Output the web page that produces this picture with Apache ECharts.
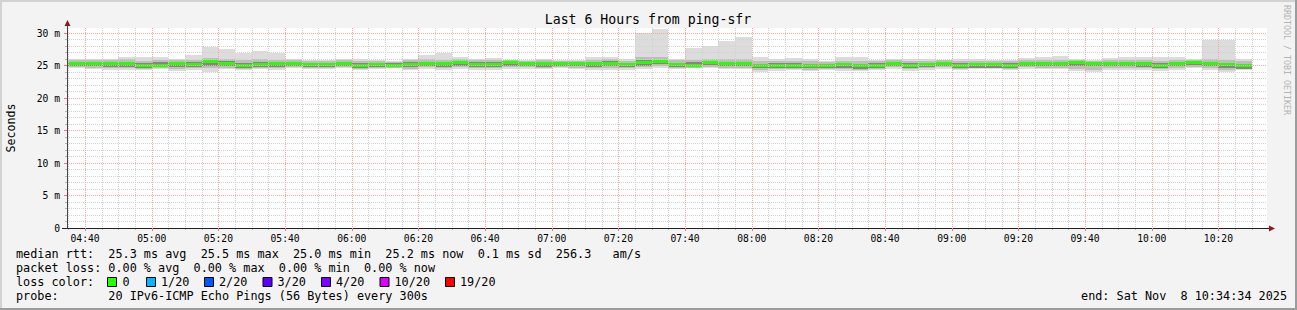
<!DOCTYPE html>
<html><head><meta charset="utf-8">
<script src="https://cdn.jsdelivr.net/npm/echarts@6/dist/echarts.min.js"></script>
<style>html,body{margin:0;padding:0;background:#f3f3f3;}#c{width:1297px;height:310px;}</style>
</head><body><div id="c"></div>
<script>
// ---- data ----
const axisStart = '04:34:34';
const axisEnd = '10:34:34';
const stepMinutes = 5;
const binStart = [
 '04:30','04:35','04:40','04:45','04:50','04:55',
 '05:00','05:05','05:10','05:15','05:20','05:25','05:30','05:35','05:40','05:45','05:50','05:55',
 '06:00','06:05','06:10','06:15','06:20','06:25','06:30','06:35','06:40','06:45','06:50','06:55',
 '07:00','07:05','07:10','07:15','07:20','07:25','07:30','07:35','07:40','07:45','07:50','07:55',
 '08:00','08:05','08:10','08:15','08:20','08:25','08:30','08:35','08:40','08:45','08:50','08:55',
 '09:00','09:05','09:10','09:15','09:20','09:25','09:30','09:35','09:40','09:45','09:50','09:55',
 '10:00','10:05','10:10','10:15','10:20','10:25'
];
// slowest ping per step
const smokeMax = [
 26.1, 26.1,26.1,26.0,26.4,26.4,
 26.4, 26.0,26.7,27.8,27.5,26.9,27.2,26.9,26.0,25.9,25.9,26.0,
 25.95,25.9,25.7,26.0,26.6,26.95,26.4,26.1,26.2,25.9,25.8,26.0,
 25.9, 25.8,26.3,26.3,26.0,30.0,30.6,26.1,27.7,28.0,28.8,29.4,
 26.3, 26.0,26.2,26.0,25.7,26.3,26.3,25.9,26.1,26.1,26.0,25.9,
 26.0, 26.0,25.9,25.9,26.2,26.3,26.5,26.0,25.8,26.2,26.3,26.3,
 26.3, 26.4,26.1,28.9,28.9,26.0
];
// fastest ping per step
const smokeMin = [
 24.6, 24.6,24.5,24.4,24.4,24.4,
 24.5, 24.2,24.4,24.0,24.5,24.4,24.5,24.4,24.6,24.5,24.5,24.6,
 24.4, 24.5,24.6,24.3,24.5,24.4,24.5,24.4,24.4,24.5,24.5,24.5,
 24.7, 24.5,24.3,24.3,24.4,24.5,24.6,24.5,24.6,24.6,24.5,24.5,
 24.1, 24.2,24.4,24.2,24.3,24.2,24.2,24.4,24.5,24.2,24.4,24.5,
 24.4, 24.5,24.5,24.4,24.5,24.5,24.5,24.2,24.1,24.4,24.4,24.4,
 24.2, 24.4,24.6,24.4,24.0,24.3
];
// second smoke layer (about 90th / 10th percentile)
const smokeHigh2 = [
 25.85, 25.85,25.9,25.85,25.95,25.75,
 25.8, 25.8,25.9,26.2,26.0,25.8,26.0,25.85,25.9,25.7,25.7,25.85,
 25.65,25.75,25.6,25.8,25.95,25.9,26.0,25.8,25.85,25.8,25.75,25.8,
 25.75,25.75,25.9,25.95,25.75,26.3,26.4,25.8,25.9,26.0,25.95,26.0,
 25.65,25.7,25.7,25.65,25.55,25.75,25.7,25.65,25.85,25.7,25.7,25.8,
 25.7, 25.7,25.65,25.65,25.9,25.85,25.9,25.85,25.7,25.85,25.9,25.9,
 25.7, 25.9,25.9,25.95,25.8,25.65
];
const smokeLow2 = [
 24.75, 24.75,24.7,24.65,24.65,24.45,
 24.6, 24.55,24.65,24.7,24.7,24.55,24.65,24.6,24.8,24.65,24.6,24.8,
 24.5, 24.65,24.65,24.55,24.75,24.6,24.75,24.6,24.6,24.75,24.75,24.7,
 24.85,24.7,24.6,24.6,24.6,24.75,24.9,24.6,24.7,24.8,24.7,24.7,
 24.35,24.45,24.55,24.4,24.45,24.45,24.4,24.55,24.75,24.45,24.6,24.75,
 24.55,24.6,24.6,24.55,24.75,24.7,24.7,24.5,24.4,24.65,24.65,24.65,
 24.45,24.65,24.8,24.65,24.4,24.45
];
// inner smoke layer (about quartiles)
const smokeUpper = [
 25.55, 25.55,25.6,25.55,25.6,25.4,
 25.5, 25.5,25.5,25.8,25.65,25.4,25.6,25.5,25.6,25.4,25.4,25.6,
 25.35,25.45,25.35,25.5,25.6,25.5,25.7,25.5,25.5,25.6,25.55,25.5,
 25.55,25.5,25.6,25.65,25.45,25.8,25.9,25.45,25.5,25.7,25.55,25.55,
 25.3, 25.35,25.35,25.3,25.3,25.4,25.3,25.35,25.6,25.35,25.4,25.6,
 25.4, 25.4,25.35,25.35,25.6,25.55,25.55,25.65,25.55,25.55,25.6,25.6,
 25.35,25.6,25.7,25.55,25.4,25.3
];
const smokeLower = [
 24.9, 24.9,24.9,24.85,24.85,24.6,
 24.75,24.8,24.85,25.0,24.9,24.7,24.8,24.8,25.0,24.8,24.75,25.0,
 24.65,24.8,24.75,24.8,25.0,24.8,25.0,24.8,24.85,25.0,25.0,24.85,
 25.0, 24.9,24.85,24.9,24.8,25.0,25.2,24.75,24.8,25.05,24.9,24.9,
 24.6, 24.7,24.65,24.65,24.6,24.7,24.55,24.7,24.95,24.65,24.75,24.95,
 24.7, 24.7,24.65,24.7,24.95,24.9,24.9,25.0,24.9,24.9,24.9,24.85,
 24.7, 24.9,25.05,24.9,24.7,24.55
];
const medianRtt = [
 25.25, 25.25,25.25,25.2,25.2,25.0,
 25.0, 25.2,25.15,25.5,25.3,25.0,25.15,25.2,25.3,25.05,25.1,25.3,
 25.0, 25.05,25.0,25.15,25.3,25.2,25.4,25.15,25.15,25.35,25.3,25.2,
 25.3, 25.2,25.25,25.3,25.1,25.4,25.5,25.1,25.0,25.4,25.2,25.2,
 25.0, 25.0,25.0,25.0,25.0,25.05,25.0,25.0,25.3,25.0,25.1,25.3,
 25.0, 25.1,25.05,25.0,25.3,25.2,25.2,25.4,25.3,25.25,25.3,25.3,
 25.0, 25.25,25.4,25.2,25.05,25.0
];
const xTickLabels = ['04:40','05:00','05:20','05:40','06:00','06:20','06:40','07:00','07:20','07:40',
 '08:00','08:20','08:40','09:00','09:20','09:40','10:00','10:20'];
const yTickValues = [0,5,10,15,20,25,30];
const yMax = 30.8;
const titleText = 'Last 6 Hours from ping-sfr';
const yName = 'Seconds';
const watermark = 'RRDTOOL / TOBI OETIKER';
const legendLines = [
 'median rtt:  25.3 ms avg  25.5 ms max  25.0 ms min  25.2 ms now  0.1 ms sd  256.3   am/s',
 'packet loss: 0.00 % avg  0.00 % max  0.00 % min  0.00 % now',
 'loss color:',
 'probe:       20 IPv6-ICMP Echo Pings (56 Bytes) every 300s'
];
const endText = 'end: Sat Nov  8 10:34:34 2025';
const lossLabels = ['0','1/20','2/20','3/20','4/20','10/20','19/20'];
const lossColors = ['#26ff00','#00b8ff','#0059ff','#5e00ff','#7e00ff','#dd00ff','#ff0000'];

// ---- helpers ----
function toMin(s){const p=s.split(':').map(Number);return p[0]*60+p[1]+(p[2]||0)/60;}
function fmtMin(v){const m=Math.round(v);const h=Math.floor(m/60),mm=m%60;return String(h).padStart(2,'0')+':'+String(mm).padStart(2,'0');}
const X_MIN=toMin(axisStart), X_MAX=toMin(axisEnd);
const xMajor = xTickLabels.map(toMin);
const xMinor=[];
for(let t=Math.ceil(X_MIN/stepMinutes)*stepMinutes;t<=X_MAX;t+=stepMinutes){ if(xMajor.indexOf(t)<0) xMinor.push(t); }
const yMinor=[];
for(let v=1;v<=30;v++){ if(yTickValues.indexOf(v)<0) yMinor.push(v); }
const nb = s => s.replace(/ /g,'\u00a0');
const MONO='"DejaVu Sans Mono", monospace';

const band = (lo,hi) => binStart.map((s,i)=>[toMin(s),toMin(s)+stepMinutes,lo[i],hi[i]]);
const medData = binStart.map((s,i)=>[toMin(s),toMin(s)+stepMinutes,medianRtt[i]]);

function clipTo(params, shape){
  const cs=params.coordSys;
  return echarts.graphic.clipRectByRect(shape,{x:cs.x,y:cs.y,width:cs.width,height:cs.height});
}
function bandRender(color){
  return function(params, api){
    const a=api.coord([api.value(0),api.value(3)]);
    const b=api.coord([api.value(1),api.value(2)]);
    const x0=Math.round(a[0]), x1=Math.round(b[0]), y0=Math.round(a[1]), y1=Math.round(b[1]);
    const shape=clipTo(params,{x:x0,y:y0,width:x1-x0,height:y1-y0});
    return shape?{type:'rect',shape:shape,style:{fill:color}}:null;
  };
}
function medRender(params, api){
  const a=api.coord([api.value(0),api.value(2)]);
  const b=api.coord([api.value(1),api.value(2)]);
  const x0=Math.round(a[0]), x1=Math.round(b[0]), yc=Math.round(a[1]);
  const shape=clipTo(params,{x:x0,y:yc-2,width:x1-x0,height:3});
  return shape?{type:'rect',shape:shape,style:{fill:'#26ff00'}}:null;
}

const chart = echarts.init(document.getElementById('c'), null, {renderer:'svg', width:1297, height:310});

const graphics = [];
graphics.push({type:'rect',shape:{x:0,y:0,width:1297,height:2},style:{fill:'#d2d2d2'},silent:true});
graphics.push({type:'rect',shape:{x:0,y:0,width:2,height:310},style:{fill:'#d2d2d2'},silent:true});
graphics.push({type:'rect',shape:{x:0,y:308,width:1297,height:2},style:{fill:'#9c9c9c'},silent:true});
graphics.push({type:'rect',shape:{x:1295,y:0,width:2,height:310},style:{fill:'#9c9c9c'},silent:true});
graphics.push({type:'line',shape:{x1:67.5,y1:28,x2:67.5,y2:24},style:{stroke:'#444',lineWidth:1},silent:true,z:10});
graphics.push({type:'line',shape:{x1:62,y1:228.5,x2:67,y2:228.5},style:{stroke:'#222',lineWidth:1},silent:true,z:10});
graphics.push({type:'line',shape:{x1:1267,y1:228.5,x2:1270,y2:228.5},style:{stroke:'#222',lineWidth:1},silent:true,z:10});
graphics.push({type:'polygon',shape:{points:[[64.5,26],[70.5,26],[67.5,20]]},style:{fill:'#8e1b1b'},silent:true,z:10});
graphics.push({type:'polygon',shape:{points:[[1269,225.5],[1269,231.5],[1275,228.5]]},style:{fill:'#8e1b1b'},silent:true,z:10});
graphics.push({type:'text',x:648,y:19.5,silent:true,style:{text:nb(titleText),font:'13.2px '+MONO,fill:'#000',align:'center',verticalAlign:'middle',textAlign:'center',textVerticalAlign:'middle'}});
graphics.push({type:'text',x:11,y:128,rotation:Math.PI/2,silent:true,style:{text:yName,font:'11.6px '+MONO,fill:'#000',align:'center',verticalAlign:'middle',textAlign:'center',textVerticalAlign:'middle'}});
graphics.push({type:'text',x:1287,y:60,rotation:-Math.PI/2,silent:true,style:{text:nb(watermark),font:'8.3px '+MONO,fill:'#b4b4b4',align:'center',verticalAlign:'middle',textAlign:'center',textVerticalAlign:'middle'}});
const legendY=[254,268,282,296];
legendLines.forEach((t,i)=>{
  graphics.push({type:'text',x:16,y:legendY[i],silent:true,style:{text:nb(t),font:'11.8px '+MONO,fill:'#000',align:'left',verticalAlign:'middle',textAlign:'left',textVerticalAlign:'middle'}});
});
graphics.push({type:'text',x:1287,y:296,silent:true,style:{text:nb(endText),font:'11.8px '+MONO,fill:'#000',align:'right',verticalAlign:'middle',textAlign:'right',textVerticalAlign:'middle'}});
const boxX=[107.5,146.5,204.5,263,321.5,380,445.5];
const labX=[122.5,161,219,277.5,336,394.5,460];
lossLabels.forEach((l,i)=>{
  graphics.push({type:'rect',shape:{x:boxX[i],y:277.5,width:9,height:9},style:{fill:lossColors[i],stroke:'#000',lineWidth:1},silent:true});
  graphics.push({type:'text',x:labX[i],y:282,silent:true,style:{text:l,font:'11.8px '+MONO,fill:'#000',align:'left',verticalAlign:'middle',textAlign:'left',textVerticalAlign:'middle'}});
});

const tickFont = {fontFamily:MONO,fontSize:9.7,color:'#000'};
chart.setOption({
  animation:false,
  backgroundColor:'#f3f3f3',
  grid:{left:67,right:30,top:28,bottom:82,show:true,backgroundColor:'#ffffff',borderWidth:0,containLabel:false,outerBoundsMode:'none'},
  xAxis:[
    {type:'value',min:X_MIN,max:X_MAX,position:'bottom',z:5,
     axisLine:{show:true,lineStyle:{color:'#222',width:1}},
     axisTick:{show:true,customValues:xMajor,length:3,lineStyle:{color:'#ff7070'}},
     axisLabel:{show:true,customValues:xMajor,formatter:fmtMin,margin:5,...tickFont},
     splitLine:{show:true,lineStyle:{color:'#ffa4a4',type:[1,1],width:1}}},
    {type:'value',min:X_MIN,max:X_MAX,position:'bottom',z:4,
     axisLine:{show:false},
     axisTick:{show:true,customValues:xMinor,length:2,lineStyle:{color:'#b8b8b8'}},
     axisLabel:{show:false},
     splitLine:{show:true,lineStyle:{color:'#d2d2d2',type:[1,1],width:1}}}
  ],
  yAxis:[
    {type:'value',min:0,max:yMax,position:'left',z:5,
     axisLine:{show:true,lineStyle:{color:'#444',width:1}},
     axisTick:{show:true,customValues:yTickValues,length:3,lineStyle:{color:'#ff7070'}},
     axisLabel:{show:true,customValues:yTickValues,formatter:v=>v===0?'0':nb(v+' m'),margin:7,...tickFont},
     splitLine:{show:true,lineStyle:{color:'#ffa4a4',type:[1,1],width:1}}},
    {type:'value',min:0,max:yMax,position:'left',z:4,
     axisLine:{show:false},
     axisTick:{show:true,customValues:yMinor,length:2,lineStyle:{color:'#b8b8b8'}},
     axisLabel:{show:false},
     splitLine:{show:true,lineStyle:{color:'#d2d2d2',type:[1,1],width:1}}}
  ],
  series:[
    {type:'custom',name:'smoke outer',xAxisIndex:0,yAxisIndex:0,z:1,silent:true,renderItem:bandRender('#dcdcdc'),encode:{x:[0,1],y:[2,3]},data:band(smokeMin,smokeMax)},
    {type:'custom',name:'smoke middle',xAxisIndex:0,yAxisIndex:0,z:1,silent:true,renderItem:bandRender('#bdbdbd'),encode:{x:[0,1],y:[2,3]},data:band(smokeLow2,smokeHigh2)},
    {type:'custom',name:'smoke inner',xAxisIndex:0,yAxisIndex:0,z:1,silent:true,renderItem:bandRender('#858585'),encode:{x:[0,1],y:[2,3]},data:band(smokeLower,smokeUpper)},
    {type:'custom',name:'median rtt',xAxisIndex:0,yAxisIndex:0,z:2,silent:true,renderItem:medRender,encode:{x:[0,1],y:2},data:medData}
  ],
  graphic:{elements:graphics}
});
</script></body></html>
